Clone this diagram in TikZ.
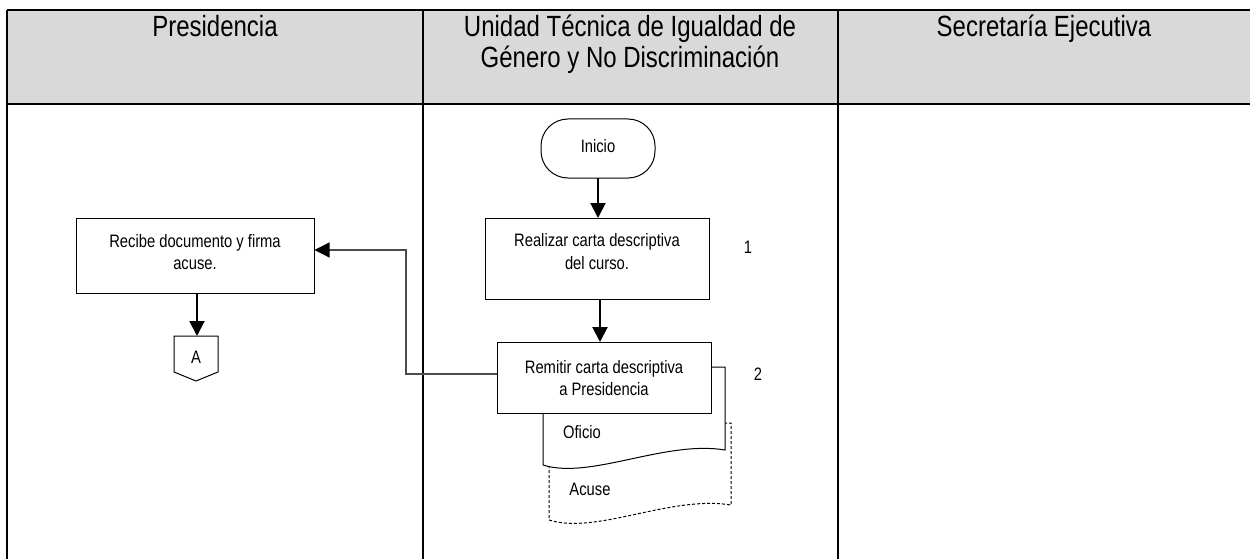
\documentclass[tikz,border=0pt]{standalone}
\usepackage{fontspec}
\setmainfont{Liberation Sans}[FakeStretch=0.82]
\usetikzlibrary{arrows.meta}
\definecolor{hdr}{HTML}{D9D9D9}
\definecolor{conn}{HTML}{4D4D4D}
\tikzset{
  hfont/.style={font=\fontsize{29.25}{31}\selectfont},
  bfont/.style={font=\fontsize{18}{22}\selectfont},
  htext/.style={hfont, anchor=base, inner sep=0pt},
  btext/.style={bfont, anchor=base, inner sep=0pt},
  procbox/.style={draw=black, line width=1pt, fill=white, inner sep=0pt},
  flowarrow/.style={draw=black, line width=2pt, -{Triangle[length=15pt,width=15pt]}},
  elbowline/.style={draw=conn, line width=1.2pt, -{Triangle[length=15pt,width=15pt,color=black]}},
  docshape/.style={draw=black, line width=1pt, fill=white},
}
\begin{document}
\begin{tikzpicture}[x=1pt,y=-1pt]
\useasboundingbox (0,0) rectangle (1250,559);
% table
\fill[hdr] (7,10) rectangle (1250,104);
\draw[line width=1.3pt] (7,10) -- (1250,10);
\draw[line width=1.3pt] (7,104) -- (1250,104);
\draw[line width=1.3pt] (7,10) -- (7,559);
\draw[line width=1.3pt] (423,10) -- (423,559);
\draw[line width=1.3pt] (838,10) -- (838,559);
% headers
\node[htext] (h1) at (215,37) {Presidencia};
\node[htext] (h2a) at (630,37) {Unidad Técnica de Igualdad de};
\node[htext] (h2b) at (630,68) {Género y No Discriminación};
\node[htext] (h3) at (1044,37) {Secretaría Ejecutiva};
% documents
\draw[docshape, dashed, dash pattern=on 3pt off 2pt] (549,423) -- (731,423) -- (731,505) .. controls (671,495) and (596,535) .. (549,520) -- cycle;
\draw[docshape] (543,367) -- (725,367) -- (725,450) .. controls (665,440) and (590,480) .. (543,465) -- cycle;
\node[btext] (acuse) at (590,495) {Acuse};
\node[btext] (oficio) at (582,438) {Oficio};
% nodes
\node[procbox, rounded corners=27pt, minimum width=114pt, minimum height=59pt] (inicio) at (598,148.5) {};
\node[btext] (inicioT) at (598,153) {Inicio};
\node[procbox, minimum width=224pt, minimum height=81pt] (realizar) at (597,258.5) {};
\node[btext] (r1) at (597,246) {Realizar carta descriptiva};
\node[btext] (r2) at (597,269) {del curso.};
\node[procbox, minimum width=214pt, minimum height=71pt] (remitir) at (604,377.5) {};
\node[btext] (m1) at (604,373) {Remitir carta descriptiva};
\node[btext] (m2) at (604,395) {a Presidencia};
\node[procbox, minimum width=238pt, minimum height=75pt] (recibe) at (195,255.5) {};
\node[btext] (c1) at (195,247) {Recibe documento y firma};
\node[btext] (c2) at (195,269) {acuse.};
\node[btext] (n1) at (748,253) {1};
\node[btext] (n2) at (758,380) {2};
% off-page connector
\coordinate (pa) at (174,336);
\coordinate (pb) at (218,336);
\coordinate (pc) at (218,372);
\coordinate (pd) at (196,381);
\coordinate (pe) at (174,372);
\draw[line width=1pt, fill=white] (pa) -- (pb) -- (pc) -- (pd) -- (pe) -- cycle;
\node[btext] (A) at (196,363) {A};
% connectors
\draw[flowarrow] (598,178) -- (598,218);
\draw[flowarrow] (600,299) -- (600,342);
\draw[flowarrow] (197,293) -- (197,336);
\coordinate (e1) at (406,374);
\coordinate (e2) at (406,250);
\draw[elbowline] (e1 -| remitir.west) -- (e1) -- (e2) -- (e2 -| recibe.east);
\end{tikzpicture}
\end{document}
